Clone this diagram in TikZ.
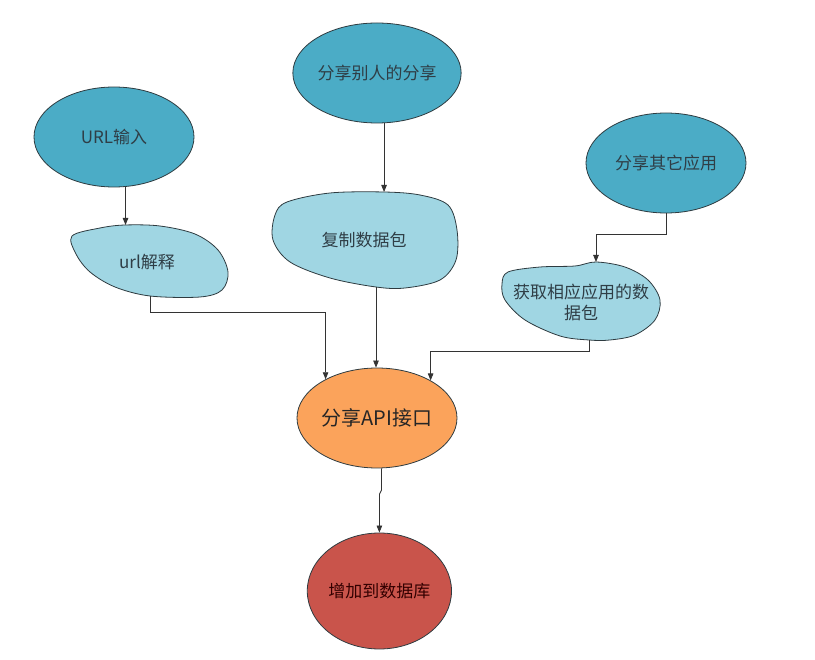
\documentclass[tikz,border=0pt]{standalone}
\usepackage{fontspec}
\setmainfont{Noto Sans CJK SC}
\usetikzlibrary{shapes.geometric,arrows.meta}
\definecolor{tealdark}{HTML}{4BACC6}
\definecolor{lblue}{HTML}{A0D6E3}
\definecolor{orng}{HTML}{FBA35B}
\definecolor{redb}{HTML}{C9544B}
\definecolor{edgec}{HTML}{2E3B40}
\definecolor{txtc}{HTML}{2F3E46}
\begin{document}
\begin{tikzpicture}[x=1pt,y=-1pt,
  ell/.style={ellipse, draw=edgec, line width=0.8pt, inner sep=0pt, text=txtc,
    font=\fontsize{17}{21}\selectfont},
  blobshape/.style={draw=edgec, line width=0.8pt, fill=lblue},
  lbl/.style={text=txtc, align=center, font=\fontsize{17}{21}\selectfont},
  conn/.style={draw=black!80, line width=0.8pt},
  arr/.style={conn, -{Triangle[length=7pt,width=5.5pt]}}]
\useasboundingbox (0,0) rectangle (815,660);

% ellipses
\node[ell, fill=tealdark, minimum width=160pt, minimum height=100pt] (url) at (114,137) {URL输入};
\node[ell, fill=tealdark, minimum width=160pt, minimum height=100pt] (share) at (377,73) {分享别人的分享};
\node[ell, fill=tealdark, minimum width=160pt, minimum height=100pt] (other) at (666,163) {分享其它应用};
\node[ell, fill=orng, minimum width=160pt, minimum height=100pt, text=black!85,
  font=\fontsize{20}{24}\selectfont] (api) at (377,418) {分享API接口};
\node[ell, fill=redb, minimum width=130pt, minimum height=116pt, text=black!80!red] (db) at (379.4,591) {增加到数据库};

% blobs
\draw[blobshape] plot[smooth cycle, tension=0.55] coordinates {
  (72,236) (100,228) (125,225) (160,226) (195,234) (218,250) (228,272) (222,290)
  (200,297) (150,296) (115,287) (90,272) (76,254)};
\node[lbl] (ub) at (147,262) {url解释};
\coordinate (ubtop) at (125,225);
\coordinate (ubbot) at (150,296);

\draw[blobshape] plot[smooth cycle, tension=0.55] coordinates {
  (287,202) (330,193) (384,192) (420,195) (448,205) (457,230) (456,260) (440,280)
  (405,288) (376,287) (330,278) (290,262) (273,240) (275,215)};
\node[lbl] (cb) at (364,240) {复制数据包};
\coordinate (cbtop) at (384,192);
\coordinate (cbbot) at (376,287);

\draw[blobshape] plot[smooth cycle, tension=0.55] coordinates {
  (508,272) (540,267) (575,266) (596,262) (625,267) (648,280) (660,300) (655,320)
  (635,335) (610,340) (589,340) (560,336) (525,320) (505,300) (502,284)};
\node[lbl] (gb) at (581,302.5) {获取相应应用的数\\据包};
\coordinate (gbtop) at (596,262);
\coordinate (gbbot) at (589,340);

% connectors
\draw[arr] (url.-77.5) -- (url.-77.5 |- ubtop);
\draw[arr] (share.-82) -- (share.-82 |- cbtop);
\draw[arr] (other.south) -- ++(0,21) -| (gbtop);
\draw[arr] (ubbot) -- ++(0,16) -| (api.143.8);
\draw[arr] (cbbot) -- (cbbot |- api.north);
\draw[arr] (gbbot) -- ++(0,11) -| (api.35.3);
\draw[arr] (api.-85) -- ++(0,22) -- ++(-2,4) -- (db.north);
\end{tikzpicture}
\end{document}
